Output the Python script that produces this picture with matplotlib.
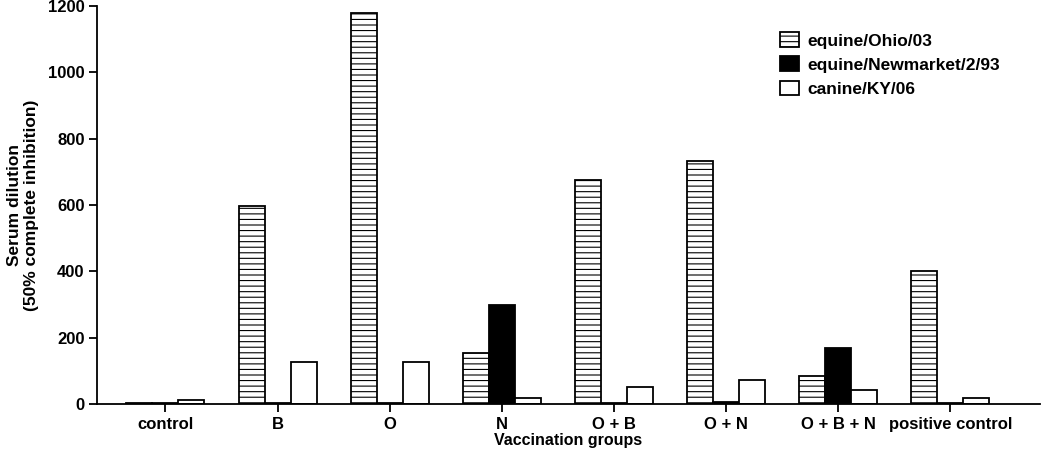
"""
Serum HI titres per vaccination group against three influenza strains.
"""
import matplotlib

matplotlib.use("Agg")
import matplotlib.pyplot as plt
import numpy as np

groups = ["control", "B", "O", "N", "O + B", "O + N", "O + B + N", "positive control"]
ohio = [3, 598, 1178, 155, 675, 733, 85, 400]
newmarket = [3, 3, 3, 298, 3, 5, 170, 3]
canine = [12, 128, 128, 18, 50, 74, 41, 18]
series_names = ["equine/Ohio/03", "equine/Newmarket/2/93", "canine/KY/06"]

plt.rcParams["font.family"] = ["Liberation Sans", "DejaVu Sans"]
plt.rcParams["font.weight"] = "bold"
plt.rcParams["hatch.linewidth"] = 0.8
plt.rcParams["hatch.color"] = "#333333"


def main() -> None:
    fig = plt.figure(figsize=(10.5, 4.53), dpi=100)
    ax = fig.add_axes([0.0924, 0.108, 0.898, 0.879])

    x = np.arange(len(groups))
    w = 0.232
    common = dict(width=w, edgecolor="black", linewidth=1.3)
    ax.bar(x - w, ohio, facecolor="white", hatch="---", label=series_names[0], **common)
    ax.bar(x, newmarket, facecolor="black", label=series_names[1], **common)
    ax.bar(x + w, canine, facecolor="white", label=series_names[2], **common)

    ax.set_xlim(-0.61, 7.80)
    ax.set_ylim(0, 1200)
    ax.set_yticks(np.arange(0, 1201, 200))
    ax.set_xticks(x)
    ax.set_xticklabels(groups)

    for side in ("top", "right"):
        ax.spines[side].set_visible(False)
    for side in ("left", "bottom"):
        ax.spines[side].set_linewidth(1.3)
    ax.tick_params(direction="out", length=6, width=1.3, labelsize=12, pad=3)

    ax.set_xlabel("Vaccination groups", fontsize=11.5, fontweight="bold", labelpad=1)
    ax.set_ylabel("Serum dilution\n(50% complete inhibition)", fontsize=12.5,
                  fontweight="bold", labelpad=6)

    leg = ax.legend(loc="upper left", bbox_to_anchor=(0.715, 0.955), frameon=False,
                    fontsize=12.5, handlelength=1.1, handleheight=0.9,
                    handletextpad=0.5, labelspacing=0.45, borderpad=0)
    for t in leg.get_texts():
        t.set_fontweight("bold")

    fig.savefig("out.png", dpi=100)


if __name__ == "__main__":
    main()
